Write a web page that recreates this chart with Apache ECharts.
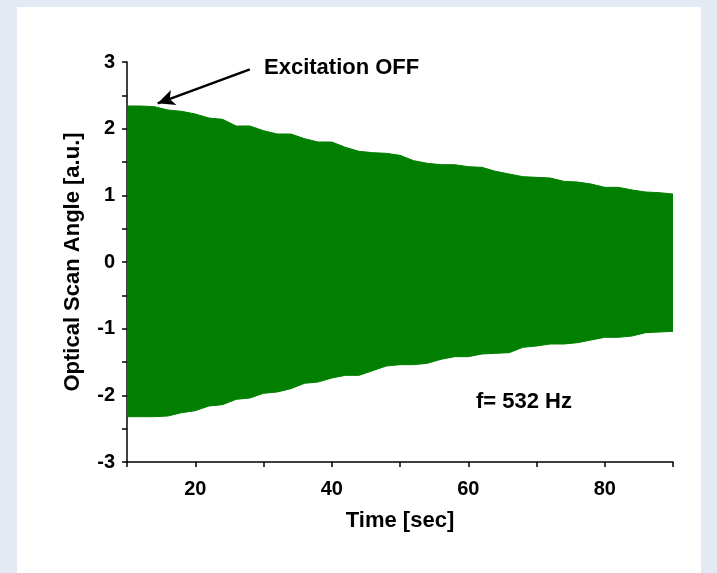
<!DOCTYPE html>
<html>
<head>
<meta charset="utf-8">
<script src="https://cdn.jsdelivr.net/npm/echarts@6/dist/echarts.min.js"></script>
<style>
  html, body { margin: 0; padding: 0; background: #e3eaf3; }
  #chart { width: 717px; height: 573px; }
</style>
</head>
<body>
<div id="chart"></div>
<script>
// time samples [sec]
const timeSec = [10, 12, 14, 16, 18, 20, 22, 24, 26, 28, 30, 32, 34, 36, 38, 40, 42, 44, 46, 48,
                 50, 52, 54, 56, 58, 60, 62, 64, 66, 68, 70, 72, 74, 76, 78, 80, 82, 84, 86, 88, 90];

// upper / lower envelope of the 532 Hz oscillation
const upperEnv = [2.34, 2.34, 2.33, 2.28, 2.26, 2.22, 2.16, 2.14, 2.04, 2.04, 1.97, 1.92, 1.92, 1.85, 1.80, 1.80, 1.72, 1.66, 1.64, 1.63,
                  1.60, 1.52, 1.48, 1.46, 1.46, 1.43, 1.42, 1.36, 1.32, 1.28, 1.27, 1.26, 1.21, 1.20, 1.17, 1.12, 1.12, 1.08, 1.05, 1.04, 1.02];
const lowerEnv = [-2.32, -2.32, -2.32, -2.31, -2.26, -2.23, -2.16, -2.14, -2.06, -2.04, -1.97, -1.95, -1.90, -1.82, -1.80, -1.74, -1.70, -1.70, -1.63, -1.56,
                  -1.54, -1.54, -1.52, -1.46, -1.42, -1.42, -1.38, -1.37, -1.36, -1.28, -1.26, -1.23, -1.23, -1.21, -1.17, -1.13, -1.13, -1.11, -1.06, -1.05, -1.04];

const xLabels = [20, 40, 60, 80];
const yLabels = [-3, -2, -1, 0, 1, 2, 3];

// annotation arrow, in data units: [time, angle]
const arrowFrom = [28.0, 2.89];
const arrowTo = [14.5, 2.38];

const green = '#007f00';
const fontFam = '"Liberation Sans", Arial, sans-serif';

const chart = echarts.init(document.getElementById('chart'));

const upperData = timeSec.map((t, i) => [t, upperEnv[i]]);
const lowerData = timeSec.map((t, i) => [t, lowerEnv[i]]);

chart.setOption({
    backgroundColor: '#e3eaf3',
    animation: false,
    graphic: [
        {
            type: 'rect',
            z: -10,
            shape: { x: 17, y: 7, width: 684, height: 566 },
            style: { fill: '#ffffff' }
        },
        {
            type: 'text',
            left: 264,
            top: 57,
            style: {
                text: 'Excitation OFF',
                font: 'bold 22px ' + fontFam,
                fill: '#000'
            }
        },
        {
            type: 'text',
            left: 476,
            top: 391,
            style: {
                text: 'f= 532 Hz',
                font: 'bold 22px ' + fontFam,
                fill: '#000'
            }
        }
    ],
    grid: {
        left: 127,
        top: 62,
        width: 546,
        height: 400,
        containLabel: false
    },
    xAxis: {
        type: 'value',
        min: 10,
        max: 90,
        interval: 10,
        name: 'Time [sec]',
        nameLocation: 'middle',
        nameGap: 48,
        nameTextStyle: { fontSize: 22, fontWeight: 'bold', color: '#000', fontFamily: fontFam },
        splitLine: { show: false },
        axisLine: { onZero: false, lineStyle: { color: '#000', width: 1.5 } },
        axisTick: { inside: false, length: 5, lineStyle: { color: '#000', width: 1.5 } },
        axisLabel: {
            margin: 17,
            fontSize: 20,
            fontWeight: 'bold',
            color: '#000',
            fontFamily: fontFam,
            showMinLabel: true,
            showMaxLabel: true,
            formatter: v => xLabels.includes(v) ? String(v) : ''
        }
    },
    yAxis: {
        type: 'value',
        min: -3,
        max: 3,
        interval: 0.5,
        name: 'Optical Scan Angle [a.u.]',
        nameLocation: 'middle',
        nameGap: 43,
        nameTextStyle: { fontSize: 22, fontWeight: 'bold', color: '#000', fontFamily: fontFam },
        splitLine: { show: false },
        axisLine: { onZero: false, lineStyle: { color: '#000', width: 1.5 } },
        axisTick: { inside: false, length: 5, lineStyle: { color: '#000', width: 1.5 } },
        axisLabel: {
            margin: 12,
            fontSize: 20,
            fontWeight: 'bold',
            color: '#000',
            fontFamily: fontFam,
            formatter: v => yLabels.includes(v) ? String(v) : ''
        }
    },
    series: [
        {
            name: 'upper',
            type: 'line',
            data: upperData,
            showSymbol: false,
            lineStyle: { color: green, width: 1 },
            areaStyle: { color: green, opacity: 1 },
            markLine: {
                silent: true,
                symbol: ['none', 'arrow'],
                symbolSize: [12, 17],
                label: { show: false },
                lineStyle: { color: '#000', width: 2.5, type: 'solid' },
                data: [[{ coord: arrowFrom }, { coord: arrowTo }]]
            }
        },
        {
            name: 'lower',
            type: 'line',
            data: lowerData,
            showSymbol: false,
            lineStyle: { color: green, width: 1 },
            areaStyle: { color: green, opacity: 1 }
        }
    ]
});
</script>
</body>
</html>
